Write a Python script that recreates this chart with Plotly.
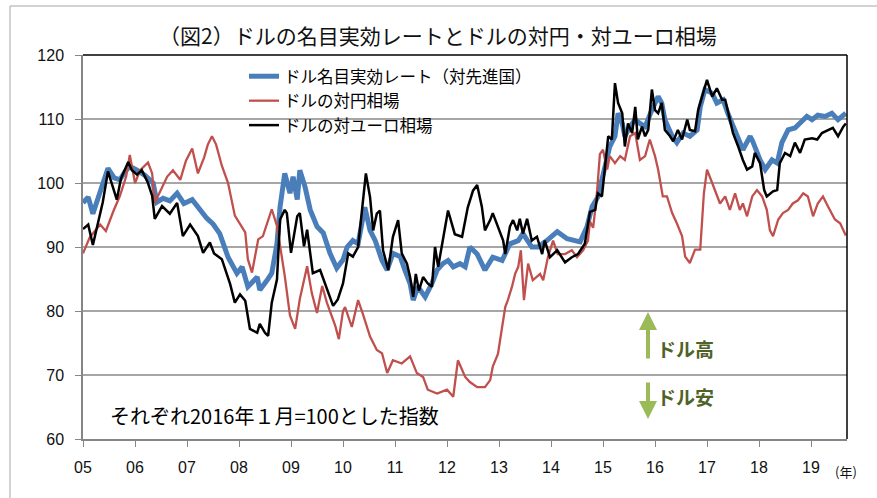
import plotly.graph_objects as go

# ---------------- data ----------------
blue_t = [2005.00, 2005.10, 2005.19, 2005.29, 2005.38, 2005.48, 2005.60, 2005.71, 2005.81, 2005.90,
          2006.04, 2006.19, 2006.35, 2006.42, 2006.54, 2006.67, 2006.81, 2006.94, 2007.10, 2007.25,
          2007.38, 2007.50, 2007.63, 2007.79, 2007.96, 2008.06, 2008.17, 2008.35, 2008.40, 2008.54,
          2008.63, 2008.73, 2008.79, 2008.88, 2008.98, 2009.04, 2009.12, 2009.17, 2009.27, 2009.37,
          2009.50, 2009.62, 2009.75, 2009.88, 2010.00, 2010.08, 2010.19, 2010.29, 2010.42, 2010.52,
          2010.62, 2010.75, 2010.85, 2010.96, 2011.10, 2011.19, 2011.29, 2011.35, 2011.44, 2011.58,
          2011.71, 2011.81, 2011.92, 2012.02, 2012.12, 2012.25, 2012.35, 2012.44, 2012.58, 2012.73,
          2012.88, 2013.06, 2013.21, 2013.37, 2013.46, 2013.63, 2013.75, 2013.92, 2014.12, 2014.31,
          2014.46, 2014.56, 2014.69, 2014.79, 2014.90, 2015.04, 2015.13, 2015.23, 2015.29, 2015.37,
          2015.42, 2015.52, 2015.62, 2015.71, 2015.81, 2015.94, 2016.06, 2016.13, 2016.19, 2016.33,
          2016.42, 2016.54, 2016.67, 2016.81, 2016.87, 2016.96, 2017.10, 2017.19, 2017.31, 2017.40,
          2017.50, 2017.60, 2017.69, 2017.83, 2017.88, 2018.02, 2018.12, 2018.25, 2018.35, 2018.44,
          2018.56, 2018.69, 2018.79, 2018.92, 2019.02, 2019.13, 2019.27, 2019.40, 2019.52, 2019.67]
blue_v = [96.9, 97.8, 95.2, 97.5, 99.5, 102.3, 100.8, 100.5, 101.8, 102.6,
          102.0, 101.2, 100.0, 97.0, 97.6, 97.2, 98.4, 96.8, 97.4, 95.8,
          94.5, 93.6, 92.1, 88.4, 85.9, 86.9, 83.8, 85.3, 83.3, 84.8,
          85.9, 90.5, 96.3, 101.5, 98.4, 101.0, 97.4, 102.0, 99.4, 95.8,
          93.2, 92.2, 89.0, 86.7, 88.0, 90.0, 91.0, 90.5, 96.2, 92.6,
          91.0, 87.9, 86.4, 89.0, 88.5, 86.4, 84.3, 81.7, 83.8, 82.2,
          84.3, 86.4, 87.4, 87.9, 86.9, 87.4, 86.9, 90.0, 88.9, 86.4,
          88.4, 87.9, 90.5, 91.0, 92.1, 90.0, 90.0, 91.0, 92.4, 91.3,
          91.0, 90.8, 93.1, 96.3, 97.8, 103.1, 105.7, 107.3, 110.9, 109.3,
          107.3, 108.8, 109.9, 109.3, 108.8, 111.4, 113.5, 112.5, 109.9, 107.3,
          106.3, 107.8, 107.3, 108.3, 111.9, 114.6, 114.0, 112.5, 113.0, 110.9,
          108.8, 106.8, 105.2, 107.3, 106.5, 103.6, 102.1, 103.6, 103.1, 106.3,
          108.3, 108.6, 109.3, 110.4, 109.9, 110.6, 110.4, 110.9, 109.9, 110.9]

red_t = [2005.00, 2005.13, 2005.33, 2005.44, 2005.58, 2005.71, 2005.83, 2005.90, 2006.00, 2006.10,
         2006.25, 2006.33, 2006.38, 2006.50, 2006.62, 2006.73, 2006.87, 2006.98, 2007.10, 2007.21,
         2007.33, 2007.40, 2007.48, 2007.56, 2007.67, 2007.79, 2007.92, 2008.12, 2008.17, 2008.25,
         2008.37, 2008.46, 2008.54, 2008.63, 2008.73, 2008.83, 2008.88, 2008.98, 2009.08, 2009.17,
         2009.31, 2009.40, 2009.50, 2009.60, 2009.69, 2009.85, 2009.92, 2010.00, 2010.04, 2010.17,
         2010.29, 2010.38, 2010.52, 2010.65, 2010.75, 2010.85, 2010.96, 2011.13, 2011.29, 2011.42,
         2011.54, 2011.63, 2011.81, 2012.00, 2012.12, 2012.21, 2012.35, 2012.44, 2012.58, 2012.73,
         2012.83, 2012.88, 2012.98, 2013.06, 2013.12, 2013.17, 2013.25, 2013.31, 2013.37, 2013.42,
         2013.48, 2013.56, 2013.65, 2013.79, 2013.85, 2013.94, 2014.04, 2014.13, 2014.27, 2014.40,
         2014.50, 2014.62, 2014.71, 2014.75, 2014.81, 2014.88, 2014.94, 2015.00, 2015.08, 2015.13,
         2015.23, 2015.33, 2015.42, 2015.52, 2015.62, 2015.71, 2015.81, 2015.90, 2016.00, 2016.06,
         2016.15, 2016.23, 2016.33, 2016.42, 2016.52, 2016.58, 2016.67, 2016.77, 2016.87, 2016.94,
         2017.00, 2017.10, 2017.19, 2017.25, 2017.35, 2017.44, 2017.54, 2017.63, 2017.69, 2017.77,
         2017.87, 2017.96, 2018.06, 2018.15, 2018.21, 2018.27, 2018.37, 2018.46, 2018.56, 2018.65,
         2018.75, 2018.85, 2018.94, 2019.04, 2019.13, 2019.23, 2019.33, 2019.46, 2019.56, 2019.62,
         2019.67]
red_v = [89.0, 91.5, 93.5, 92.5, 95.5, 98.0, 101.0, 104.4, 100.0, 102.0,
         103.2, 101.5, 96.9, 99.0, 101.0, 102.0, 100.5, 103.5, 105.4, 101.5,
         104.0, 106.0, 107.3, 106.0, 102.7, 100.0, 94.9, 92.3, 88.1, 86.0,
         91.2, 91.7, 93.8, 95.9, 93.3, 88.1, 85.5, 79.3, 77.2, 81.9,
         87.0, 82.8, 79.7, 83.9, 81.3, 77.7, 75.6, 80.0, 80.6, 77.5,
         81.7, 79.6, 76.0, 73.9, 73.4, 70.3, 72.3, 71.8, 72.9, 70.3,
         69.7, 67.7, 67.1, 67.7, 66.6, 72.3, 69.7, 68.9, 68.1, 68.1,
         69.2, 71.3, 73.3, 77.5, 80.6, 81.7, 83.8, 85.8, 86.9, 89.5,
         81.7, 87.4, 84.8, 85.8, 84.8, 88.4, 91.0, 88.9, 88.9, 89.5,
         88.4, 89.5, 91.0, 94.0, 93.0, 98.0, 104.5, 105.2, 102.1, 104.2,
         103.1, 104.2, 103.6, 107.3, 107.8, 103.6, 104.2, 106.8, 104.2, 102.1,
         97.9, 97.9, 95.3, 93.7, 91.7, 88.5, 87.5, 89.6, 89.6, 98.4,
         102.1, 100.0, 97.9, 96.8, 97.9, 95.8, 98.4, 95.8, 96.8, 94.8,
         97.9, 98.9, 97.9, 95.8, 92.6, 91.7, 94.3, 95.3, 95.8, 96.8,
         97.3, 98.4, 97.9, 94.8, 96.8, 97.9, 96.3, 94.3, 93.7, 92.6,
         91.8]

black_t = [2005.00, 2005.10, 2005.19, 2005.29, 2005.38, 2005.48, 2005.58, 2005.65, 2005.73, 2005.87,
           2005.94, 2006.04, 2006.13, 2006.25, 2006.33, 2006.38, 2006.52, 2006.67, 2006.81, 2006.92,
           2007.06, 2007.21, 2007.31, 2007.44, 2007.52, 2007.67, 2007.83, 2007.92, 2008.02, 2008.12,
           2008.21, 2008.35, 2008.40, 2008.50, 2008.56, 2008.63, 2008.73, 2008.79, 2008.88, 2008.92,
           2009.00, 2009.12, 2009.17, 2009.25, 2009.31, 2009.42, 2009.56, 2009.65, 2009.81, 2009.90,
           2010.00, 2010.10, 2010.19, 2010.29, 2010.38, 2010.44, 2010.52, 2010.58, 2010.65, 2010.71,
           2010.77, 2010.87, 2010.96, 2011.06, 2011.13, 2011.23, 2011.29, 2011.35, 2011.40, 2011.46,
           2011.54, 2011.63, 2011.71, 2011.77, 2011.83, 2011.96, 2012.02, 2012.15, 2012.29, 2012.40,
           2012.50, 2012.58, 2012.67, 2012.73, 2012.83, 2012.88, 2012.98, 2013.08, 2013.12, 2013.21,
           2013.27, 2013.35, 2013.40, 2013.46, 2013.54, 2013.63, 2013.73, 2013.83, 2013.88, 2013.98,
           2014.12, 2014.27, 2014.40, 2014.52, 2014.65, 2014.75, 2014.85, 2014.90, 2014.98, 2015.04,
           2015.10, 2015.17, 2015.23, 2015.29, 2015.37, 2015.42, 2015.48, 2015.56, 2015.62, 2015.67,
           2015.75, 2015.81, 2015.87, 2015.94, 2016.00, 2016.06, 2016.13, 2016.19, 2016.29, 2016.35,
           2016.44, 2016.52, 2016.62, 2016.67, 2016.77, 2016.83, 2016.90, 2017.00, 2017.10, 2017.19,
           2017.29, 2017.35, 2017.44, 2017.50, 2017.60, 2017.69, 2017.77, 2017.87, 2017.92, 2018.02,
           2018.10, 2018.15, 2018.27, 2018.35, 2018.40, 2018.50, 2018.60, 2018.69, 2018.79, 2018.88,
           2019.02, 2019.12, 2019.21, 2019.33, 2019.42, 2019.52, 2019.62, 2019.67]
black_v = [92.8, 93.5, 90.3, 94.0, 97.0, 101.8, 99.0, 97.4, 100.7, 103.3,
           102.0, 101.3, 102.0, 100.0, 98.0, 94.4, 96.4, 95.2, 96.9, 91.7,
           93.5, 91.7, 89.1, 90.7, 89.0, 88.1, 84.2, 81.3, 82.6, 81.6,
           77.2, 76.6, 78.0, 76.6, 76.1, 81.3, 84.9, 94.3, 95.8, 95.3,
           89.1, 94.8, 95.3, 90.1, 92.7, 85.9, 86.4, 84.4, 80.8, 81.8,
           84.3, 89.0, 88.5, 90.0, 97.3, 101.5, 97.8, 92.6, 95.2, 95.7,
           89.5, 86.4, 91.6, 94.2, 89.0, 87.4, 85.3, 82.2, 85.8, 83.2,
           85.3, 84.3, 83.8, 90.0, 86.9, 92.6, 95.7, 92.0, 91.6, 96.2,
           98.8, 99.7, 96.3, 92.6, 94.2, 95.3, 93.2, 91.0, 88.9, 93.2,
           94.2, 92.6, 94.4, 92.1, 94.4, 91.0, 91.6, 88.9, 91.0, 88.4,
           89.5, 87.6, 88.4, 88.9, 90.5, 95.5, 95.8, 98.4, 97.9, 102.1,
           107.3, 106.8, 115.6, 112.5, 110.9, 105.7, 109.3, 107.8, 111.9, 106.8,
           108.8, 107.3, 108.3, 114.6, 111.4, 110.9, 112.5, 108.3, 107.3, 106.5,
           108.3, 106.8, 109.9, 108.3, 108.1, 111.4, 113.5, 116.1, 113.5, 114.8,
           113.0, 113.0, 109.9, 107.8, 105.7, 103.6, 102.1, 102.6, 104.7, 103.1,
           98.9, 97.9, 98.7, 98.9, 103.1, 104.7, 104.2, 106.3, 104.7, 106.8,
           107.0, 106.8, 107.8, 108.3, 108.6, 107.3, 108.8, 109.3]

year_ticks = list(range(2005, 2020))
year_labels = ["05", "06", "07", "08", "09", "10", "11", "12", "13", "14", "15", "16", "17", "18", "19"]

names = ["ドル名目実効レート（対先進国）", "ドルの対円相場", "ドルの対ユーロ相場"]

# ---------------- layout geometry ----------------
W, H = 877, 498
ML, MR, MT, MB = 83, 30, 55, 59
PW, PH = W - ML - MR, H - MT - MB
X0, X1 = 2005.0, 2005.0 + PW / 52.0


def px(xp):
    return (xp - ML) / PW


def py(yp):
    return (H - MB - yp) / PH


JP = "Noto Sans CJK JP"
NUM = "Liberation Sans, Noto Sans CJK JP"

fig = go.Figure()
fig.add_trace(go.Scatter(x=blue_t, y=blue_v, mode="lines", name=names[0],
                         line=dict(color="#4a7ebb", width=5)))
fig.add_trace(go.Scatter(x=red_t, y=red_v, mode="lines", name=names[1],
                         line=dict(color="#c0504d", width=2.3)))
fig.add_trace(go.Scatter(x=black_t, y=black_v, mode="lines", name=names[2],
                         line=dict(color="#000000", width=2.5)))

shapes = [
    # white box behind legend (covers gridline)
    dict(type="rect", xref="paper", yref="paper", x0=px(190), x1=px(580), y0=py(132), y1=py(60),
         fillcolor="white", line=dict(width=0), layer="between"),
    # black top and right border of plot area
    dict(type="line", xref="paper", yref="paper", x0=0, x1=1, y0=1, y1=1,
         line=dict(color="black", width=1.5), layer="above"),
    dict(type="line", xref="paper", yref="paper", x0=1, x1=1, y0=0, y1=1,
         line=dict(color="black", width=1.5), layer="above"),
    # outer chart frame
    dict(type="line", xref="paper", yref="paper", x0=px(10), x1=px(W + 5), y0=py(6), y1=py(6),
         line=dict(color="#a6a6a6", width=1), layer="above"),
    dict(type="line", xref="paper", yref="paper", x0=px(10), x1=px(10), y0=py(6), y1=py(H + 5),
         line=dict(color="#a6a6a6", width=1), layer="above"),
]

annotations = [
    dict(text="（図2）ドルの名目実効レートとドルの対円・対ユーロ相場", xref="paper", yref="paper",
         x=px(438), y=py(35), xanchor="center", yanchor="middle", showarrow=False,
         font=dict(family=JP, size=21, color="#111111")),
    dict(text="それぞれ2016年１月=100とした指数", xref="paper", yref="paper",
         x=px(108), y=py(415), xanchor="left", yanchor="middle", showarrow=False,
         font=dict(family=JP, size=20, color="#000000")),
    dict(text="<b>ドル高</b>", xref="paper", yref="paper",
         x=px(655), y=py(348), xanchor="left", yanchor="middle", showarrow=False,
         font=dict(family=JP, size=19, color="#4f6228")),
    dict(text="<b>ドル安</b>", xref="paper", yref="paper",
         x=px(655), y=py(396), xanchor="left", yanchor="middle", showarrow=False,
         font=dict(family=JP, size=19, color="#4f6228")),
    dict(text="", xref="paper", yref="paper", axref="pixel", ayref="pixel",
         x=px(648), y=py(312), ax=0, ay=48, showarrow=True, arrowhead=2, arrowsize=0.9,
         arrowwidth=4, arrowcolor="#9bbb59"),
    dict(text="", xref="paper", yref="paper", axref="pixel", ayref="pixel",
         x=px(648), y=py(419), ax=0, ay=-38, showarrow=True, arrowhead=2, arrowsize=0.9,
         arrowwidth=4, arrowcolor="#9bbb59"),
    dict(text="(年)", xref="paper", yref="paper",
         x=px(833), y=py(471), xanchor="left", yanchor="middle", showarrow=False,
         font=dict(family=JP, size=13, color="#111111")),
]

fig.update_layout(
    width=W, height=H,
    margin=dict(l=ML, r=MR, t=MT, b=MB, pad=0),
    paper_bgcolor="white", plot_bgcolor="white",
    showlegend=True,
    legend=dict(x=px(244), y=py(59), xanchor="left", yanchor="top",
                bgcolor="rgba(255,255,255,0)", borderwidth=0,
                font=dict(family=JP, size=16.5, color="#000000"),
                tracegroupgap=0, itemwidth=30),
    shapes=shapes,
    annotations=annotations,
    xaxis=dict(range=[X0, X1], tickmode="array", tickvals=year_ticks, ticktext=year_labels,
               showgrid=False, zeroline=False, showline=True, linecolor="#868686", linewidth=1.5,
               ticks="outside", ticklen=6, tickcolor="#868686", tickwidth=1.2,
               tickfont=dict(family=NUM, size=16, color="#111111"), ticklabelstandoff=7),
    yaxis=dict(range=[60, 120], tickmode="linear", tick0=60, dtick=10,
               showgrid=True, gridcolor="#a6a6a6", gridwidth=1.5, zeroline=False,
               showline=True, linecolor="#868686", linewidth=1.5,
               ticks="outside", ticklen=6, tickcolor="#868686", tickwidth=1.2,
               tickfont=dict(family=NUM, size=16, color="#111111"), ticklabelstandoff=8),
)

fig.write_html("out.html", config={"displayModeBar": False},
               post_script="document.body.style.margin='0px';document.body.style.padding='0px';")
